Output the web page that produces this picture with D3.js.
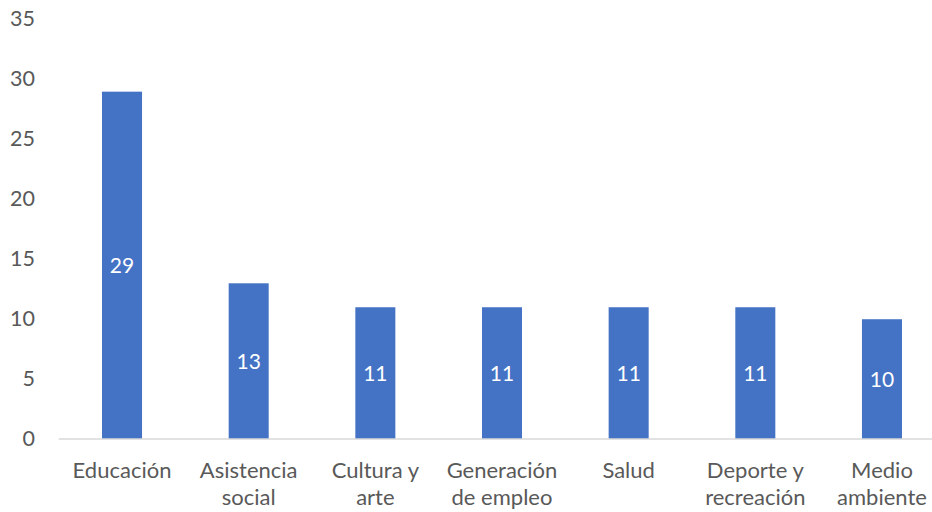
<!DOCTYPE html>
<html>
<head>
<meta charset="utf-8">
<script src="https://cdn.jsdelivr.net/npm/d3@7"></script>
<style>
  html, body { margin: 0; padding: 0; background: #fff; }
  svg { display: block; }
  text { font-family: Lato, "Open Sans", sans-serif; }
</style>
</head>
<body>
<svg id="chart" width="932" height="512"></svg>
<script>
// Categories (line breaks mark where the axis labels wrap)
const categories = [
  "Educación",
  "Asistencia\nsocial",
  "Cultura y\narte",
  "Generación\nde empleo",
  "Salud",
  "Deporte y\nrecreación",
  "Medio\nambiente"
];
const values = [29, 13, 11, 11, 11, 11, 10];
const yTicks = [0, 5, 10, 15, 20, 25, 30, 35];

const svg = d3.select("#chart");
const margin = { left: 58.7, right: -13.3, top: 19.8, bottom: 73 };
const W = 932, H = 512;

const x = d3.scaleBand()
  .domain(categories)
  .range([margin.left, W - margin.right])
  .paddingInner(0.684)
  .paddingOuter(0.342);

const y = d3.scaleLinear()
  .domain([0, 35])
  .range([H - margin.bottom, margin.top]);

// Y tick labels (no gridlines, no axis line)
const yAxis = d3.axisLeft(y).tickValues(yTicks).tickSize(0).tickPadding(0);
const gy = svg.append("g").attr("transform", "translate(35,0)").call(yAxis);
gy.select(".domain").remove();
gy.selectAll("text")
  .attr("fill", "#595959")
  .style("font-size", "21.5px")
  .style("font-family", "Lato, 'Open Sans', sans-serif")
  .attr("dy", "0.28em");

// Bars
svg.append("g").selectAll("rect")
  .data(values)
  .join("rect")
  .attr("x", (d, i) => x(categories[i]))
  .attr("width", x.bandwidth())
  .attr("y", d => y(d))
  .attr("height", d => y(0) - y(d))
  .attr("fill", "#4472c4");

// Baseline
svg.append("line")
  .attr("x1", margin.left).attr("x2", W)
  .attr("y1", y(0)).attr("y2", y(0))
  .attr("stroke", "#d9d9d9").attr("stroke-width", 1.5);

// Value labels centered in bars
svg.append("g").selectAll("text")
  .data(values)
  .join("text")
  .attr("x", (d, i) => x(categories[i]) + x.bandwidth() / 2)
  .attr("y", d => (y(d) + y(0)) / 2)
  .attr("text-anchor", "middle")
  .attr("dy", "0.36em")
  .attr("fill", "#ffffff")
  .style("font-size", "21px")
  .text(d => d);

// Category labels
const xl = svg.append("g").selectAll("text")
  .data(categories)
  .join("text")
  .attr("x", d => x(d) + x.bandwidth() / 2)
  .attr("y", 478)
  .attr("text-anchor", "middle")
  .attr("fill", "#595959")
  .style("font-size", "22px");
xl.selectAll("tspan")
  .data(d => d.split("\n").map(s => ({ s, cx: x(d) + x.bandwidth() / 2 })))
  .join("tspan")
  .attr("x", t => t.cx)
  .attr("dy", (t, i) => i === 0 ? 0 : 27)
  .text(t => t.s);
</script>
</body>
</html>
